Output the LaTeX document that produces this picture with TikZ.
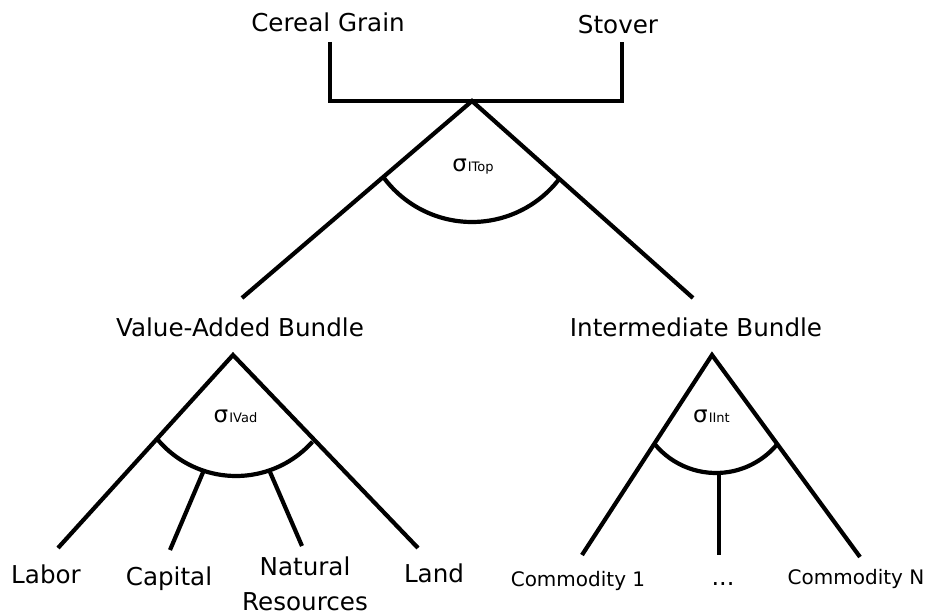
\documentclass[tikz,border=0pt]{standalone}
\usepackage{fontspec}
\setmainfont{DejaVu Sans}

\begin{document}
\begin{tikzpicture}
    [x=1pt, y=-1pt,
     lbl/.style={anchor=base, inner sep=0pt, font=\fontsize{24.6}{35}\selectfont, align=center},
     sml/.style={anchor=base, inner sep=0pt, font=\fontsize{20}{24}\selectfont},
     sg/.style={anchor=base, inner sep=0pt, font=\fontsize{23}{28}\selectfont},
     br/.style={line width=4.2pt}]

    \useasboundingbox (0,0) rectangle (927,612);

    % outputs on top
    \node [lbl] (grain) at (328,32) {Cereal Grain};
    \node [lbl] (stover) at (618,34) {Stover};
    \coordinate (grainE) at (330,42);
    \coordinate (stoverE) at (622,42);
    \coordinate (top) at (472,101);
    \coordinate (topC) at (472,112);

    % nests
    \node [lbl] (vab) at (240,337) {Value-Added Bundle};
    \node [lbl] (ib) at (696,337) {Intermediate Bundle};
    \coordinate (vabE) at (242,298);
    \coordinate (ibE) at (693,298);
    \coordinate (vaTop) at (233,355);
    \coordinate (vaC) at (236,373.5);
    \coordinate (ibTop) at (712,355);
    \coordinate (ibC) at (716,393.5);

    % inputs
    \node [lbl] (labor) at (46,583) {Labor};
    \node [lbl] (capital) at (169,585) {Capital};
    \node [lbl] (natres) at (305,610) {Natural\\Resources};
    \node [lbl] (land) at (434,582) {Land};
    \node [sml] (com1) at (578,586) {Commodity 1};
    \node [sml, font=\fontsize{24}{28}\selectfont] (dots) at (723,585) {...};
    \node [sml] (comN) at (856,584) {Commodity N};

    \coordinate (laborE) at (58,548);
    \coordinate (capS) at (204,470);
    \coordinate (capE) at (170,550);
    \coordinate (natS) at (270,472);
    \coordinate (natE) at (302,546);
    \coordinate (landE) at (418,548);
    \coordinate (com1E) at (582,555);
    \coordinate (dotsS) at (719,474);
    \coordinate (dotsE) at (719,555);
    \coordinate (comNE) at (860,557);

    % elasticities
    \node [sg] (sTop) at (473,172) {σ\hspace{1pt}{\fontsize{13}{15}\selectfont ITop}};
    \node [sg] (sVad) at (235.5,423) {σ\hspace{1pt}{\fontsize{13}{15}\selectfont IVad}};
    \node [sg] (sInt) at (711.5,422) {σ\hspace{1pt}{\fontsize{13}{15}\selectfont IInt}};

    % tree
    \draw [br] (grainE) |- (top) -| (stoverE);
    \draw [br] (vabE) -- (top) -- (ibE);
    \draw [br] (laborE) -- (vaTop) -- (landE);
    \draw [br] (capS) -- (capE);
    \draw [br] (natS) -- (natE);
    \draw [br] (com1E) -- (ibTop) -- (comNE);
    \draw [br] (dotsS) -- (dotsE);

    \draw [br] ([shift={(216.6:110pt)}] topC) arc [start angle=216.6, end angle=321.7, radius=110pt];
    \draw [br] ([shift={(219.6:102.5pt)}] vaC) arc [start angle=219.6, end angle=318.3, radius=102.5pt];
    \draw [br] ([shift={(219.6:79.5pt)}] ibC) arc [start angle=219.6, end angle=319.8, radius=79.5pt];
\end{tikzpicture}
\end{document}
